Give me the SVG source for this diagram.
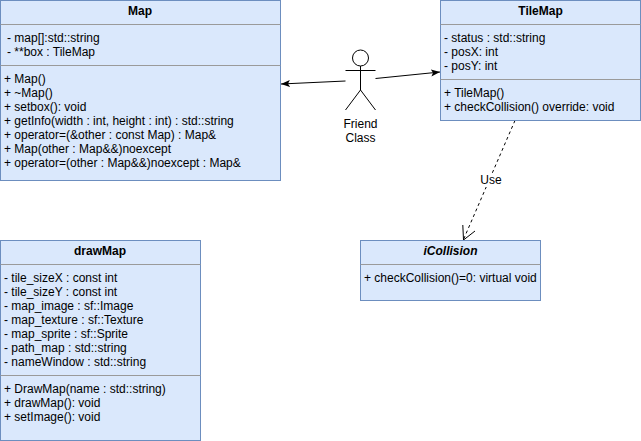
<svg xmlns="http://www.w3.org/2000/svg" width="641" height="441" viewBox="0 0 641 441">
<style>
text{font-family:"Liberation Sans",Arial,sans-serif;font-size:12px;fill:#000}
.box{fill:#dae8fc;stroke:#6c8ebf;stroke-width:1}
.div{stroke:#9a9a9a;stroke-width:1;fill:none}
.t{font-weight:bold;text-anchor:middle}
.i{font-style:italic}
.c{text-anchor:middle}
.ln{stroke:#000;stroke-width:1;fill:none}
</style>
<defs>
<marker id="fill" viewBox="0 0 9 8" refX="9" refY="4" markerWidth="9" markerHeight="8" markerUnits="userSpaceOnUse" orient="auto"><path d="M0 0.500 L9 4 L0 7.500 L2 4 Z" fill="#000"/></marker>
</defs>
<rect width="641" height="441" fill="#fff"/>
<g id="connectors">
<path class="ln" d="M345.500 81 L281 84" marker-end="url(#fill)"/>
<path class="ln" d="M375.500 78.500 L440 72" marker-end="url(#fill)"/>
<path class="ln" stroke-dasharray="3 3" d="M515 120.500 L463.500 239.500"/>
<path class="ln" d="M462.800 225 L463.500 240 L475 231"/>
<rect x="480" y="173" width="22" height="14" fill="#fff"/>
<text class="c" x="491" y="184">Use</text>
</g>
<g id="node-map">
<rect class="box" x="0.500" y="0.500" width="280" height="180"/>
<path class="div" d="M0.500 24.500H280.500M0.500 65.500H280.500"/>
<text class="t" x="140" y="15">Map</text>
<text x="7" y="42">- map[]:std::string</text>
<text x="7" y="56">- **box : TileMap</text>
<text x="4" y="83">+ Map()</text>
<text x="4" y="97">+ ~Map()</text>
<text x="4" y="111">+ setbox(): void</text>
<text x="4" y="125">+ getInfo(width : int, height : int) : std::string</text>
<text x="4" y="139">+ operator=(&amp;other : const Map) : Map&amp;</text>
<text x="4" y="153">+ Map(other : Map&amp;&amp;)noexcept</text>
<text x="4" y="167">+ operator=(other : Map&amp;&amp;)noexcept : Map&amp;</text>
</g>
<g id="node-tilemap">
<rect class="box" x="440.500" y="0.500" width="200" height="120"/>
<path class="div" d="M440.500 24.500H640.500M440.500 79.500H640.500"/>
<text class="t" x="540.500" y="15">TileMap</text>
<text x="444" y="42">- status : std::string</text>
<text x="444" y="56">- posX: int</text>
<text x="444" y="70">- posY: int</text>
<text x="444" y="97">+ TileMap()</text>
<text x="444" y="111">+ checkCollision() override: void</text>
</g>
<g id="node-icollision">
<rect class="box" x="360.500" y="240.500" width="180" height="60"/>
<path class="div" d="M360.500 264.500H540.500"/>
<text class="t i" x="450.500" y="255">iCollision</text>
<text x="364" y="282">+ checkCollision()=0: virtual void</text>
</g>
<g id="node-drawmap">
<rect class="box" x="0.500" y="240.500" width="200" height="200"/>
<path class="div" d="M0.500 264.500H200.500M0.500 375.500H200.500"/>
<text class="t" x="100" y="255">drawMap</text>
<text x="4" y="282">- tile_sizeX : const int</text>
<text x="4" y="296">- tile_sizeY : const int</text>
<text x="4" y="310">- map_image : sf::Image</text>
<text x="4" y="324">- map_texture : sf::Texture</text>
<text x="4" y="338">- map_sprite : sf::Sprite</text>
<text x="4" y="352">- path_map : std::string</text>
<text x="4" y="366">- nameWindow : std::string</text>
<text x="4" y="393">+ DrawMap(name : std::string)</text>
<text x="4" y="407">+ drawMap(): void</text>
<text x="4" y="421">+ setImage(): void</text>
</g>
<g id="node-actor">
<circle cx="360.500" cy="58" r="8" fill="#fff" stroke="#000"/>
<path class="ln" d="M360.500 66V90M345.500 70.500H375.500M360.500 90L345.500 110M360.500 90L375.500 110"/>
<text class="c" x="360.500" y="128">Friend</text>
<text class="c" x="360.500" y="142">Class</text>
</g>
</svg>
